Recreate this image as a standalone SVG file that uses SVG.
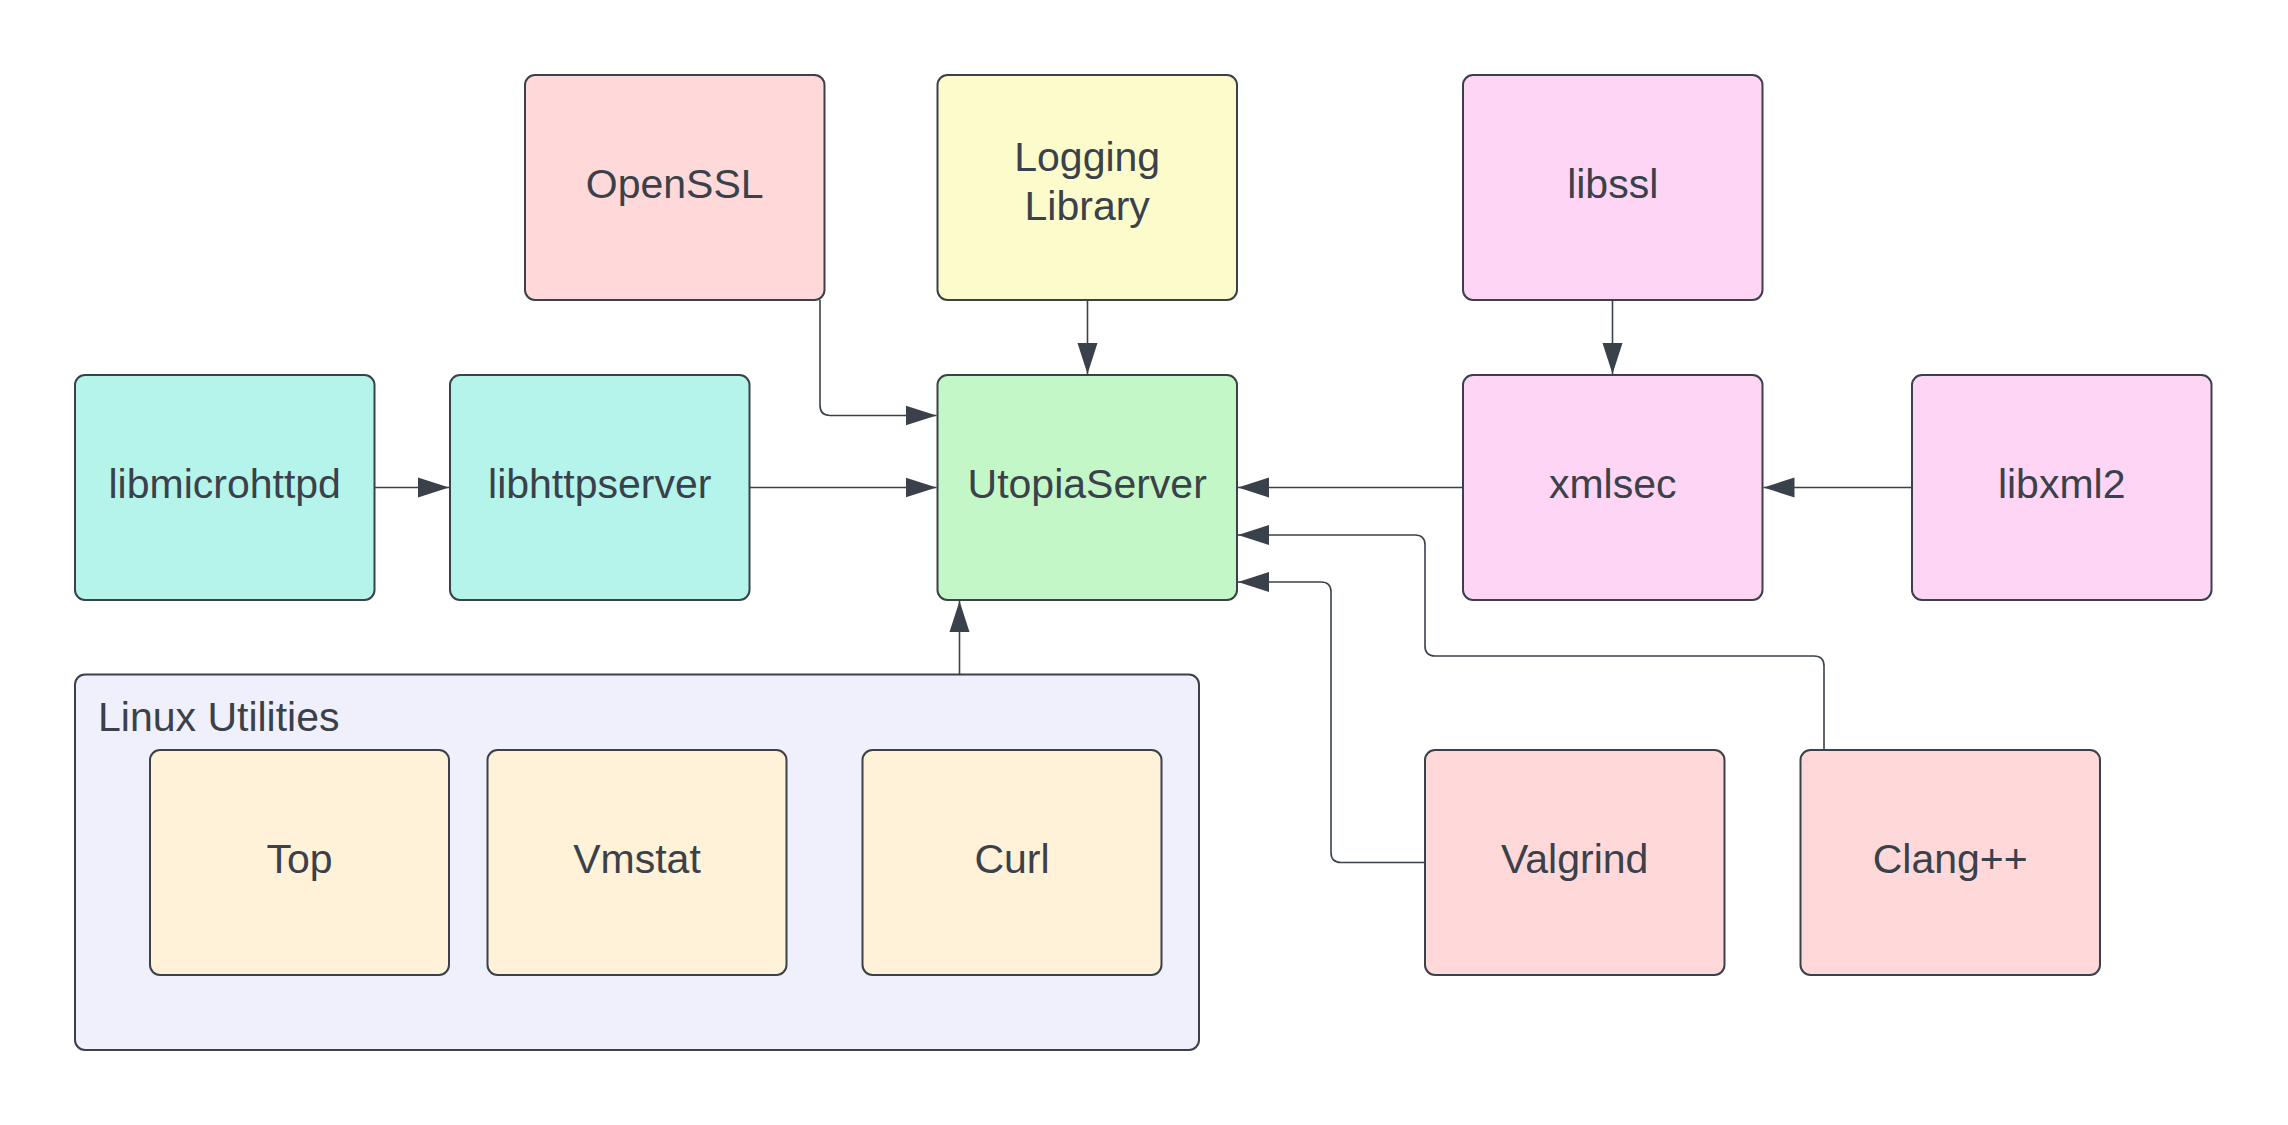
<svg xmlns="http://www.w3.org/2000/svg" width="2288" height="1125" viewBox="0 0 2288 1125">
<style>
.n{stroke:#3a414a;stroke-width:2}
.t{font-family:"Liberation Sans",Arial,sans-serif;font-size:41px;fill:#3a414a;text-anchor:middle}
.tl{font-family:"Liberation Sans",Arial,sans-serif;font-size:41px;fill:#3a414a}
.red{fill:#ffd9d9}.yel{fill:#fcfbcb}.pink{fill:#fed5f4}.teal{fill:#b5f4ea}.green{fill:#c3f7c8}.lav{fill:#f0f0fc}.cream{fill:#fff2d9}
.c{fill:none;stroke:#3a414a;stroke-width:1.6}
</style>
<defs>
<marker id="ah" markerUnits="userSpaceOnUse" markerWidth="32" markerHeight="22" viewBox="0 0 32 22" refX="31" refY="11" orient="auto">
<path d="M0 1 L31 11 L0 21 Z" fill="#3a414a"/>
</marker>
</defs>
<rect width="2288" height="1125" fill="#ffffff"/>
<g id="linux-utilities">
<rect class="n lav" x="75" y="674.5" width="1124" height="375.5" rx="10"/>
<text class="tl" x="98" y="731">Linux Utilities</text>
</g>
<g id="openssl"><rect class="n red" x="525" y="75" width="299.5" height="225" rx="10"/><text class="t" x="674.7" y="198">OpenSSL</text></g>
<g id="logging"><rect class="n yel" x="937.5" y="75" width="299.5" height="225" rx="10"/><text class="t" x="1087.2" y="171">Logging</text><text class="t" x="1087.2" y="220">Library</text></g>
<g id="libssl"><rect class="n pink" x="1463" y="75" width="299.5" height="225" rx="10"/><text class="t" x="1612.7" y="198">libssl</text></g>
<g id="libmicrohttpd"><rect class="n teal" x="75" y="375" width="299.5" height="225" rx="10"/><text class="t" x="224.7" y="498">libmicrohttpd</text></g>
<g id="libhttpserver"><rect class="n teal" x="450" y="375" width="299.5" height="225" rx="10"/><text class="t" x="599.7" y="498">libhttpserver</text></g>
<g id="utopiaserver"><rect class="n green" x="937.5" y="375" width="299.5" height="225" rx="10"/><text class="t" x="1087.2" y="498">UtopiaServer</text></g>
<g id="xmlsec"><rect class="n pink" x="1463" y="375" width="299.5" height="225" rx="10"/><text class="t" x="1612.7" y="498">xmlsec</text></g>
<g id="libxml2"><rect class="n pink" x="1912" y="375" width="299.5" height="225" rx="10"/><text class="t" x="2061.7" y="498">libxml2</text></g>
<g id="top"><rect class="n cream" x="150" y="750" width="299" height="225" rx="10"/><text class="t" x="299.5" y="873">Top</text></g>
<g id="vmstat"><rect class="n cream" x="487.5" y="750" width="299" height="225" rx="10"/><text class="t" x="637" y="873">Vmstat</text></g>
<g id="curl"><rect class="n cream" x="862.5" y="750" width="299" height="225" rx="10"/><text class="t" x="1012" y="873">Curl</text></g>
<g id="valgrind"><rect class="n red" x="1425" y="750" width="299.5" height="225" rx="10"/><text class="t" x="1574.7" y="873">Valgrind</text></g>
<g id="clang"><rect class="n red" x="1800.5" y="750" width="299.5" height="225" rx="10"/><text class="t" x="1950.2" y="873">Clang++</text></g>
<g id="connectors">
<path class="c" marker-end="url(#ah)" d="M820 300 V405 Q820 415.5 830 415.5 H936.5"/>
<path class="c" marker-end="url(#ah)" d="M1087.5 300 V374"/>
<path class="c" marker-end="url(#ah)" d="M374.5 487.5 H449"/>
<path class="c" marker-end="url(#ah)" d="M749.5 487.5 H936.5"/>
<path class="c" marker-end="url(#ah)" d="M1463 487.5 H1238"/>
<path class="c" marker-end="url(#ah)" d="M1612.5 300 V374"/>
<path class="c" marker-end="url(#ah)" d="M1912 487.5 H1763.5"/>
<path class="c" marker-end="url(#ah)" d="M959.5 674.5 V601"/>
<path class="c" marker-end="url(#ah)" d="M1824 750 V666 Q1824 656 1814 656 H1435 Q1425 656 1425 646 V545 Q1425 535 1415 535 H1238"/>
<path class="c" marker-end="url(#ah)" d="M1425 862.5 H1341 Q1331 862.5 1331 852.5 V592 Q1331 582 1321 582 H1238"/>
</g>
</svg>
